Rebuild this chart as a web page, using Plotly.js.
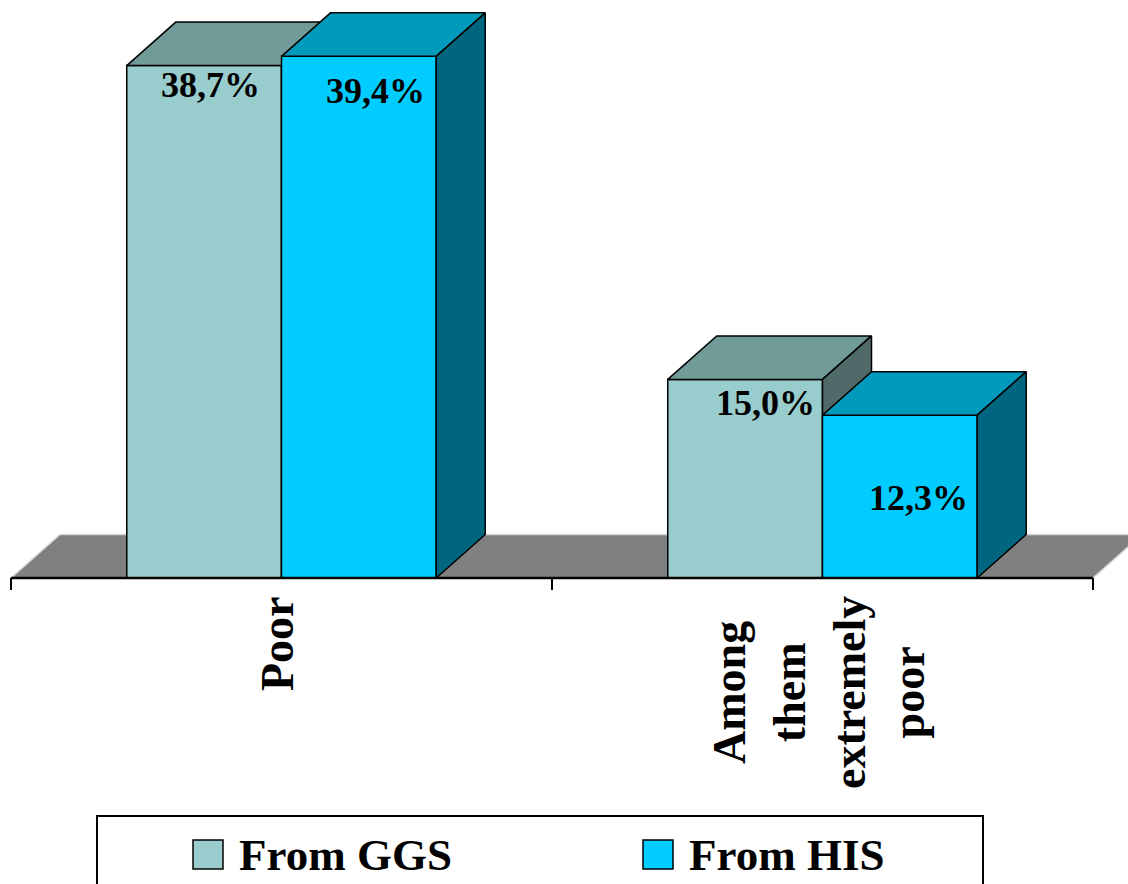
<!DOCTYPE html>
<html>
<head>
<meta charset="utf-8">
<script src="https://cdn.plot.ly/plotly-3.0.1.min.js"></script>
<style>html,body{margin:0;padding:0;background:#fff;}#chart{width:1128px;height:884px;}</style>
</head>
<body>
<div id="chart"></div>
<script>
// ---------- DATA ----------
const categories = ['Poor', 'Among them extremely poor'];
const categoryLabels = ['Poor', 'Among<br>them<br>extremely<br>poor'];
const seriesNames = ['From GGS', 'From HIS'];
const ggsValues = [38.7, 15.0];
const hisValues = [39.4, 12.3];

// ---------- STYLE / LAYOUT CONSTANTS ----------
const W = 1128, H = 884;
const BASE_PX = 578;          // pixel row of the value 0
const PX_PER_UNIT = 13.24;    // pixels per percentage point
const CAT0_PX = 281.5;        // pixel column of first category centre
const CAT_STEP = 541;         // pixels per category
const BAR_W = 0.286;          // bar width in category units
const DEPTH_X = 49 / CAT_STEP;        // 3D depth offset (x units)
const DEPTH_Y = 43.5 / PX_PER_UNIT;   // 3D depth offset (y units)
const TICK_LEN = 12 / PX_PER_UNIT;

const FRONT = ['#99CCCC', '#00CCFF'];
const TOP   = ['#719B99', '#009ABC'];
const SIDE  = ['#4F6A69', '#006680'];
const FLOOR = '#808080';
const SERIF = 'Liberation Serif, Times New Roman, serif';

// label offsets (pixels) for value labels, [series][category]
const LABEL_SHIFT = [[[6, -19], [20, -24]], [[17, -35], [19, -83]]];

const xRange = [(0 - CAT0_PX) / CAT_STEP, (W - CAT0_PX) / CAT_STEP];
const yRange = [-(H - BASE_PX) / PX_PER_UNIT, BASE_PX / PX_PER_UNIT];

const seriesValues = [ggsValues, hisValues];
const catIdx = categories.map((c, i) => i);
const fmt = v => v.toFixed(1).replace('.', ',') + '%';

const traces = [];

// floor
const xl0 = -0.5, xr0 = categories.length - 0.5;
traces.push({
  type: 'scatter', mode: 'lines', fill: 'toself', fillcolor: FLOOR,
  x: [xl0, xr0, xr0 + DEPTH_X, xl0 + DEPTH_X, xl0],
  y: [0, 0, DEPTH_Y, DEPTH_Y, 0],
  line: {color: '#d8d8d8', width: 1.5}, hoverinfo: 'skip', showlegend: false
});

// bars (front faces) via bar traces
seriesValues.forEach((vals, s) => {
  traces.push({
    type: 'bar', x: catIdx, y: vals, name: seriesNames[s],
    width: BAR_W, offset: s === 0 ? -BAR_W : 0,
    marker: {color: FRONT[s], line: {color: '#000', width: 1.5}},
    showlegend: false, hoverinfo: 'skip'
  });
});

// 3D faces, painter's order
catIdx.forEach(c => {
  seriesValues.forEach((vals, s) => {
    const h = vals[c];
    const xl = c + (s === 0 ? -BAR_W : 0);
    const xr = xl + BAR_W;
    const faces = [
      {col: FRONT[s], x: [xl, xr, xr, xl, xl], y: [0, 0, h, h, 0]},
      {col: TOP[s], x: [xl, xr, xr + DEPTH_X, xl + DEPTH_X, xl], y: [h, h, h + DEPTH_Y, h + DEPTH_Y, h]},
      {col: SIDE[s], x: [xr, xr + DEPTH_X, xr + DEPTH_X, xr, xr], y: [0, DEPTH_Y, h + DEPTH_Y, h, 0]}
    ];
    faces.forEach(f => traces.push({
      type: 'scatter', mode: 'lines', fill: 'toself', fillcolor: f.col,
      x: f.x, y: f.y, line: {color: '#000', width: 1.5, join: 'miter'},
      hoverinfo: 'skip', showlegend: false
    }));
  });
});

// category axis line + ticks
traces.push({
  type: 'scatter', mode: 'lines', x: [xl0, xr0], y: [0, 0],
  line: {color: '#000', width: 2.5}, hoverinfo: 'skip', showlegend: false
});
const tx = [], ty = [];
for (let k = 0; k <= categories.length; k++) {
  tx.push(k - 0.5, k - 0.5, null); ty.push(0, -TICK_LEN, null);
}
traces.push({
  type: 'scatter', mode: 'lines', x: tx, y: ty,
  line: {color: '#000', width: 2}, hoverinfo: 'skip', showlegend: false
});

// annotations
const annotations = [];
seriesValues.forEach((vals, s) => {
  vals.forEach((v, c) => {
    annotations.push({
      x: c + (s === 0 ? -BAR_W / 2 : BAR_W / 2), y: v,
      xref: 'x', yref: 'y', text: fmt(v), showarrow: false,
      xanchor: 'center', yanchor: 'middle',
      xshift: LABEL_SHIFT[s][c][0], yshift: LABEL_SHIFT[s][c][1],
      font: {family: SERIF, size: 36, color: '#000', weight: 'bold'}
    });
  });
});
categoryLabels.forEach((lab, c) => {
  annotations.push({
    x: c, y: 0, xref: 'x', yref: 'y', text: lab, showarrow: false,
    textangle: -90, align: 'center', xanchor: 'center', yanchor: 'top',
    yshift: -16, xshift: -4,
    font: {family: SERIF, size: 46, color: '#000', weight: 'bold'}
  });
});

// manual legend (built from series names / colours)
const px = v => v / W, py = v => 1 - v / H;
const shapes = [{
  type: 'rect', xref: 'paper', yref: 'paper',
  x0: px(97), x1: px(983), y0: py(920), y1: py(816),
  line: {color: '#000', width: 2}, fillcolor: 'rgba(0,0,0,0)'
}];
const LEG_SYM_X = [193, 643];
seriesNames.forEach((nm, s) => {
  shapes.push({
    type: 'rect', xref: 'paper', yref: 'paper',
    x0: px(LEG_SYM_X[s]), x1: px(LEG_SYM_X[s] + 30), y0: py(869), y1: py(840),
    line: {color: '#000', width: 1.5}, fillcolor: FRONT[s]
  });
  annotations.push({
    xref: 'paper', yref: 'paper', x: px(LEG_SYM_X[s] + 44), y: py(855),
    xanchor: 'left', yanchor: 'middle', text: nm, showarrow: false,
    font: {family: SERIF, size: 45, color: '#000', weight: 'bold'}
  });
});

const layout = {
  width: W, height: H,
  margin: {l: 0, r: 0, t: 0, b: 0, pad: 0},
  paper_bgcolor: '#fff', plot_bgcolor: 'rgba(0,0,0,0)',
  barmode: 'overlay', hovermode: false, showlegend: false,
  xaxis: {range: xRange, visible: false, fixedrange: true},
  yaxis: {range: yRange, visible: false, fixedrange: true},
  annotations: annotations, shapes: shapes
};

Plotly.newPlot('chart', traces, layout, {staticPlot: true, displayModeBar: false});
</script>
</body>
</html>
